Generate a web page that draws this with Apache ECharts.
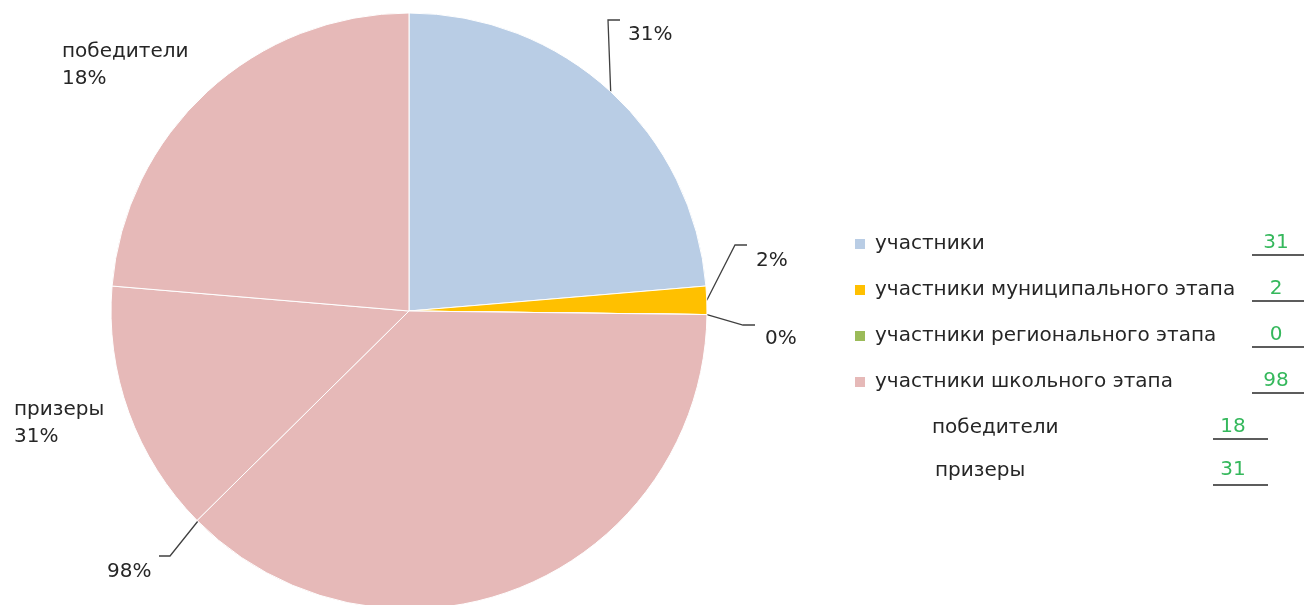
<!DOCTYPE html>
<html>
<head>
<meta charset="utf-8">
<script src="https://cdn.jsdelivr.net/npm/echarts@6/dist/echarts.min.js"></script>
<style>
html,body{margin:0;padding:0;background:#fff;}
#chart{width:1304px;height:605px;}
</style>
</head>
<body>
<div id="chart"></div>
<script>
// Legend categories and their values
const categories = ['участники', 'участники муниципального этапа', 'участники регионального этапа', 'участники школьного этапа'];
const counts = [31, 2, 0, 98];
// Sub rows below the legend
const subCategories = ['победители', 'призеры'];
const subCounts = [18, 31];
// Slices as drawn (school-stage slice split into three pink parts)
const sliceNames = ['участники', 'участники муниципального этапа', 'участники регионального этапа', 'участники школьного этапа', 'призеры', 'победители'];
const sliceValues = [31, 2, 0, 49, 18, 31];
const sliceLabels = ['31%', '2%', '0%', '98%', 'призеры\n31%', 'победители\n18%'];

const FONT = 'DejaVu Sans';
const colors = ['#B9CDE5', '#FFC000', '#9BBB59', '#E6B9B8', '#E6B9B8', '#E6B9B8'];

// label placement (left x, centre y) and leader-line bends
const labelPos = [
  {x: 628, y: 35, line: [[608, 20], [620, 20]]},
  {x: 756, y: 261, line: [[735, 245], [747, 245]]},
  {x: 765, y: 339, line: [[743, 325], [755, 325]]},
  {x: 107, y: 572, line: [[198, 521], [170, 556], [159, 556]], ownStart: true},
  {x: 14, y: 423, line: null},
  {x: 62, y: 65, line: null}
];

const chart = echarts.init(document.getElementById('chart'), null, {renderer: 'canvas'});

const graphics = [];
const rowY = [243, 289, 335, 381];
counts.forEach((v, i) => {
  graphics.push({type: 'text', x: 1276, y: rowY[i], style: {text: String(v), fill: '#35B85C', fontSize: 20, fontFamily: FONT, align: 'center', verticalAlign: 'middle'}});
  graphics.push({type: 'line', shape: {x1: 1252, y1: rowY[i] + 12, x2: 1304, y2: rowY[i] + 12}, style: {stroke: '#262626', lineWidth: 1.5}});
});
const subY = [428, 471];
const subX = [932, 935];
subCategories.forEach((n, i) => {
  graphics.push({type: 'text', x: subX[i], y: subY[i], style: {text: n, fill: '#262626', fontSize: 20, fontFamily: FONT, align: 'left', verticalAlign: 'middle'}});
  graphics.push({type: 'text', x: 1233, y: subY[i] - 1, style: {text: String(subCounts[i]), fill: '#35B85C', fontSize: 20, fontFamily: FONT, align: 'center', verticalAlign: 'middle'}});
  graphics.push({type: 'line', shape: {x1: 1213, y1: subY[i] + 11 + i * 3, x2: 1268, y2: subY[i] + 11 + i * 3}, style: {stroke: '#262626', lineWidth: 1.5}});
});

chart.setOption({
  animation: false,
  backgroundColor: '#fff',
  color: colors,
  legend: {
    orient: 'vertical',
    left: 855,
    top: 233,
    padding: 0,
    data: categories,
    icon: 'rect',
    itemWidth: 10,
    itemHeight: 10,
    itemGap: 24,
    selectedMode: false,
    itemStyle: {borderWidth: 0},
    textStyle: {fontFamily: FONT, fontSize: 20, color: '#262626', lineHeight: 22, padding: [0, 0, 0, 5]}
  },
  graphic: graphics,
  series: [{
    type: 'pie',
    center: [409, 311],
    radius: 298,
    startAngle: 90,
    clockwise: true,
    avoidLabelOverlap: false,
    stillShowZeroSum: true,
    data: sliceValues.map((v, i) => ({name: sliceNames[i], value: v, itemStyle: {color: colors[i]}})),
    itemStyle: {borderColor: '#fff', borderWidth: 1},
    label: {
      show: true,
      position: 'outside',
      formatter: p => sliceLabels[p.dataIndex],
      fontFamily: FONT,
      fontSize: 20,
      lineHeight: 27,
      color: '#262626'
    },
    labelLine: {show: true, lineStyle: {color: '#404040', width: 1.3}},
    emphasis: {disabled: true},
    labelLayout: function (params) {
      const lp = labelPos[params.dataIndex];
      const out = {x: lp.x, y: lp.y, align: 'left', verticalAlign: 'middle'};
      if (lp.line) {
        const start = lp.ownStart ? [] : [params.labelLinePoints ? params.labelLinePoints[0] : lp.line[0]];
        out.labelLinePoints = start.concat(lp.line);
      } else {
        out.labelLinePoints = [[lp.x, lp.y], [lp.x, lp.y], [lp.x, lp.y]];
      }
      return out;
    }
  }]
});
</script>
</body>
</html>
